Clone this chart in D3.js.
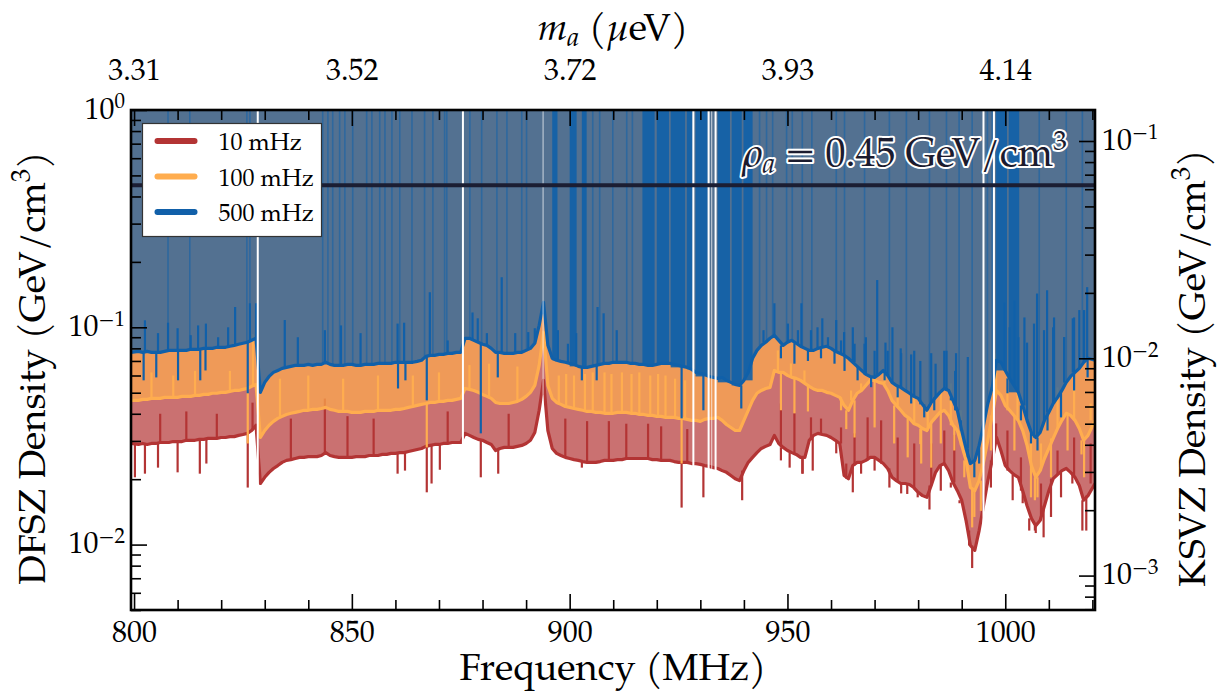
<!DOCTYPE html>
<html>
<head>
<meta charset="utf-8">
<script src="https://cdn.jsdelivr.net/npm/d3@7"></script>
<style>
  html, body { margin: 0; padding: 0; background: #fff; }
</style>
</head>
<body>
<svg id="chart" width="1222" height="692"></svg>
<script>
// DFSZ-equivalent density limits vs frequency, three scan resolutions (800..1020 MHz, 1 MHz grid)
const FONT = '"TeX Gyre Pagella", "Liberation Serif", serif';
const freqs = d3.range(800, 1021, 1);
const freqDomain = [799.3, 1020.6];
const dfszDomain = [0.005, 1];
const ksvzRatio = 7.2;          // DFSZ / KSVZ density for the same coupling
const rhoLocal = 0.45;
const ueVperMHz = 4.1357e-3;    // m_a = h f

const dfsz10 = [
  0.0292, 0.0289, 0.0292, 0.0289, 0.0292, 0.0292, 0.0295, 0.0295, 0.0295, 0.0298,
  0.0298, 0.0298, 0.0302, 0.0302, 0.0302, 0.0305, 0.0305, 0.0308, 0.0308, 0.0308,
  0.0311, 0.0311, 0.0314, 0.0314, 0.0318, 0.0321, 0.0325, 0.0335, 0.0354, 0.0191,
  0.0204, 0.0215, 0.0224, 0.0231, 0.0239, 0.0244, 0.0246, 0.0249, 0.0252, 0.0252,
  0.0254, 0.0254, 0.0254, 0.0257, 0.0265, 0.0257, 0.0254, 0.0252, 0.0252, 0.0252,
  0.0252, 0.0254, 0.0254, 0.0254, 0.0257, 0.0257, 0.0257, 0.0260, 0.0260, 0.0263,
  0.0263, 0.0265, 0.0265, 0.0268, 0.0271, 0.0274, 0.0277, 0.0283, 0.0286, 0.0289,
  0.0289, 0.0292, 0.0292, 0.0295, 0.0295, 0.0295, 0.0325, 0.0318, 0.0311, 0.0305,
  0.0302, 0.0295, 0.0289, 0.0271, 0.0277, 0.0280, 0.0280, 0.0280, 0.0283, 0.0286,
  0.0292, 0.0302, 0.0328, 0.0415, 0.0570, 0.0335, 0.0277, 0.0263, 0.0257, 0.0252,
  0.0249, 0.0246, 0.0244, 0.0241, 0.0239, 0.0239, 0.0239, 0.0241, 0.0244, 0.0244,
  0.0244, 0.0246, 0.0246, 0.0249, 0.0249, 0.0249, 0.0249, 0.0249, 0.0249, 0.0246,
  0.0246, 0.0244, 0.0244, 0.0244, 0.0241, 0.0239, 0.0239, 0.0239, 0.0236, 0.0236,
  0.0234, 0.0231, 0.0229, 0.0226, 0.0224, 0.0219, 0.0215, 0.0208, 0.0201, 0.0197,
  0.0219, 0.0239, 0.0252, 0.0265, 0.0277, 0.0283, 0.0289, 0.0318, 0.0292, 0.0280,
  0.0271, 0.0265, 0.0260, 0.0252, 0.0252, 0.0302, 0.0318, 0.0325, 0.0321, 0.0318,
  0.0311, 0.0302, 0.0292, 0.0208, 0.0201, 0.0231, 0.0239, 0.0239, 0.0244, 0.0252,
  0.0252, 0.0244, 0.0236, 0.0224, 0.0204, 0.0197, 0.0191, 0.0191, 0.0189, 0.0183,
  0.0174, 0.0168, 0.0165, 0.0187, 0.0215, 0.0231, 0.0236, 0.0219, 0.0193, 0.0177,
  0.0160, 0.0129, 0.0099, 0.0094, 0.0116, 0.0151, 0.0197, 0.0244, 0.0311, 0.0271,
  0.0231, 0.0219, 0.0210, 0.0204, 0.0177, 0.0151, 0.0132, 0.0122, 0.0129, 0.0151,
  0.0177, 0.0201, 0.0210, 0.0219, 0.0224, 0.0215, 0.0204, 0.0187, 0.0160, 0.0168,
  0.0191
];
const dfsz100 = [
  0.0461, 0.0461, 0.0466, 0.0466, 0.0471, 0.0471, 0.0471, 0.0476, 0.0476, 0.0476,
  0.0476, 0.0481, 0.0481, 0.0481, 0.0486, 0.0486, 0.0491, 0.0491, 0.0497, 0.0497,
  0.0502, 0.0502, 0.0507, 0.0512, 0.0512, 0.0518, 0.0523, 0.0535, 0.0546, 0.0311,
  0.0335, 0.0354, 0.0369, 0.0381, 0.0389, 0.0397, 0.0402, 0.0406, 0.0410, 0.0415,
  0.0415, 0.0419, 0.0419, 0.0423, 0.0428, 0.0419, 0.0415, 0.0410, 0.0410, 0.0410,
  0.0406, 0.0406, 0.0406, 0.0410, 0.0410, 0.0410, 0.0415, 0.0415, 0.0415, 0.0415,
  0.0419, 0.0419, 0.0423, 0.0428, 0.0432, 0.0437, 0.0442, 0.0446, 0.0451, 0.0451,
  0.0456, 0.0456, 0.0461, 0.0461, 0.0466, 0.0471, 0.0523, 0.0518, 0.0512, 0.0502,
  0.0491, 0.0481, 0.0471, 0.0451, 0.0446, 0.0446, 0.0446, 0.0451, 0.0456, 0.0466,
  0.0481, 0.0502, 0.0540, 0.0668, 0.0948, 0.0540, 0.0471, 0.0451, 0.0442, 0.0432,
  0.0428, 0.0423, 0.0419, 0.0415, 0.0410, 0.0410, 0.0406, 0.0406, 0.0402, 0.0402,
  0.0402, 0.0406, 0.0406, 0.0406, 0.0402, 0.0402, 0.0397, 0.0397, 0.0393, 0.0393,
  0.0389, 0.0389, 0.0385, 0.0385, 0.0385, 0.0381, 0.0381, 0.0377, 0.0373, 0.0373,
  0.0369, 0.0377, 0.0381, 0.0381, 0.0385, 0.0373, 0.0357, 0.0346, 0.0335, 0.0335,
  0.0373, 0.0415, 0.0461, 0.0497, 0.0512, 0.0523, 0.0529, 0.0633, 0.0620, 0.0620,
  0.0601, 0.0588, 0.0582, 0.0570, 0.0552, 0.0535, 0.0520, 0.0512, 0.0512, 0.0502,
  0.0497, 0.0486, 0.0476, 0.0437, 0.0415, 0.0461, 0.0497, 0.0512, 0.0540, 0.0570,
  0.0570, 0.0558, 0.0552, 0.0512, 0.0461, 0.0437, 0.0415, 0.0393, 0.0381, 0.0361,
  0.0354, 0.0342, 0.0335, 0.0365, 0.0385, 0.0406, 0.0415, 0.0393, 0.0354, 0.0335,
  0.0286, 0.0244, 0.0183, 0.0177, 0.0197, 0.0239, 0.0302, 0.0393, 0.0512, 0.0486,
  0.0437, 0.0415, 0.0393, 0.0373, 0.0335, 0.0286, 0.0231, 0.0204, 0.0219, 0.0249,
  0.0277, 0.0308, 0.0342, 0.0373, 0.0402, 0.0393, 0.0373, 0.0342, 0.0302, 0.0318,
  0.0373
];
const dfsz500 = [
  0.0767, 0.0775, 0.0767, 0.0775, 0.0767, 0.0767, 0.0767, 0.0775, 0.0783, 0.0783,
  0.0783, 0.0783, 0.0783, 0.0792, 0.0792, 0.0792, 0.0800, 0.0800, 0.0800, 0.0809,
  0.0809, 0.0809, 0.0818, 0.0826, 0.0835, 0.0844, 0.0853, 0.0871, 0.0890, 0.0502,
  0.0558, 0.0594, 0.0620, 0.0633, 0.0647, 0.0654, 0.0661, 0.0668, 0.0668, 0.0668,
  0.0675, 0.0668, 0.0675, 0.0675, 0.0690, 0.0675, 0.0668, 0.0668, 0.0668, 0.0675,
  0.0675, 0.0668, 0.0668, 0.0675, 0.0675, 0.0675, 0.0682, 0.0682, 0.0682, 0.0682,
  0.0690, 0.0690, 0.0690, 0.0690, 0.0690, 0.0697, 0.0705, 0.0735, 0.0743, 0.0743,
  0.0751, 0.0751, 0.0759, 0.0759, 0.0767, 0.0767, 0.0890, 0.0890, 0.0871, 0.0853,
  0.0835, 0.0826, 0.0800, 0.0767, 0.0767, 0.0759, 0.0759, 0.0759, 0.0767, 0.0767,
  0.0783, 0.0800, 0.0844, 0.1021, 0.1303, 0.0826, 0.0720, 0.0705, 0.0697, 0.0690,
  0.0682, 0.0675, 0.0661, 0.0654, 0.0654, 0.0661, 0.0668, 0.0675, 0.0682, 0.0682,
  0.0690, 0.0690, 0.0690, 0.0690, 0.0682, 0.0682, 0.0675, 0.0675, 0.0668, 0.0668,
  0.0675, 0.0682, 0.0682, 0.0682, 0.0675, 0.0668, 0.0661, 0.0654, 0.0640, 0.0620,
  0.0614, 0.0607, 0.0594, 0.0588, 0.0582, 0.0588, 0.0570, 0.0558, 0.0546, 0.0540,
  0.0570, 0.0620, 0.0720, 0.0783, 0.0826, 0.0853, 0.0890, 0.0918, 0.0871, 0.0826,
  0.0853, 0.0871, 0.0844, 0.0818, 0.0800, 0.0783, 0.0783, 0.0800, 0.0809, 0.0818,
  0.0800, 0.0775, 0.0759, 0.0743, 0.0720, 0.0690, 0.0661, 0.0633, 0.0607, 0.0594,
  0.0588, 0.0607, 0.0633, 0.0601, 0.0558, 0.0540, 0.0529, 0.0512, 0.0497, 0.0481,
  0.0471, 0.0442, 0.0415, 0.0451, 0.0476, 0.0502, 0.0523, 0.0512, 0.0461, 0.0415,
  0.0335, 0.0277, 0.0236, 0.0244, 0.0286, 0.0354, 0.0446, 0.0529, 0.0705, 0.0690,
  0.0633, 0.0582, 0.0540, 0.0502, 0.0437, 0.0373, 0.0328, 0.0311, 0.0328, 0.0373,
  0.0406, 0.0446, 0.0476, 0.0512, 0.0558, 0.0594, 0.0620, 0.0647, 0.0690, 0.0720,
  0.0705
];

// narrow excursions of each limit: [frequency MHz, density]
const spikes10 = [
  [800.2, 0.0204], [802.5, 0.0212], [805.5, 0.0226], [810.0, 0.0215], [815.1, 0.0212],
  [816.6, 0.0236], [826.1, 0.0183], [860.5, 0.0212], [862.2, 0.0219], [867.2, 0.0174],
  [868.3, 0.0191], [870.2, 0.0221], [879.6, 0.0204], [883.6, 0.0212], [902.8, 0.0226],
  [925.7, 0.0148], [930.7, 0.0165], [939.6, 0.0160], [953.4, 0.0212], [965.0, 0.0174],
  [977.5, 0.0171], [982.6, 0.0145], [992.4, 0.0078], [1006.8, 0.0116], [1008.8, 0.0108],
  [1018.6, 0.0116],
  [806.0, 0.040], [812.0, 0.041], [819.0, 0.040], [827.2, 0.045], [836.0, 0.038],
  [843.8, 0.047], [849.0, 0.039], [855.0, 0.038], [872.0, 0.041], [886.0, 0.040],
  [899.0, 0.038], [904.0, 0.037], [909.0, 0.037], [913.0, 0.036], [918.0, 0.036],
  [921.0, 0.035], [927.0, 0.034],
  [948.5, 0.0244], [950.5, 0.0226], [953.5, 0.0212], [955.8, 0.0219], [961.2, 0.0263],
  [963.5, 0.0236], [966.9, 0.0212], [970.0, 0.0219], [973.4, 0.0183], [976.1, 0.0172],
  [977.6, 0.0191], [979.9, 0.0165], [985.2, 0.0177], [987.5, 0.0183], [989.5, 0.0155],
  [991.0, 0.0125], [991.7, 0.0116], [994.4, 0.0116], [996.7, 0.0183], [1001.7, 0.0160],
  [1004.0, 0.0155], [1005.5, 0.0116], [1007.0, 0.0113], [1010.5, 0.0134], [1012.8, 0.0165],
  [1015.4, 0.0191], [1017.7, 0.0116],
  [948.5, 0.0446], [951.6, 0.0402], [955.4, 0.0385], [957.7, 0.0380], [962.3, 0.0346],
  [965.4, 0.0325], [968.4, 0.0385], [971.5, 0.0373], [975.3, 0.0311], [979.1, 0.0292],
  [983.0, 0.0292], [986.0, 0.0335], [988.3, 0.0320], [997.9, 0.0361], [1000.5, 0.0335],
  [1003.6, 0.0252], [1008.2, 0.0191], [1012.0, 0.0271], [1015.8, 0.0311], [1019.6, 0.0292]
];
const spikes100 = [
  [826.1, 0.0292], [867.2, 0.0280], [925.7, 0.0236], [963.5, 0.0340], [980.5, 0.0290],
  [992.4, 0.0120], [1006.8, 0.0160], [1017.5, 0.0260],
  [804.0, 0.062], [809.0, 0.060], [814.0, 0.063], [822.0, 0.063], [827.3, 0.093],
  [833.5, 0.058], [840.0, 0.060], [848.0, 0.058], [856.0, 0.060], [864.0, 0.060],
  [870.0, 0.062], [877.0, 0.067], [881.5, 0.068], [888.0, 0.066], [897.5, 0.060],
  [899.2, 0.061], [901.0, 0.060], [903.5, 0.061], [905.3, 0.062], [908.0, 0.062],
  [909.6, 0.061], [912.0, 0.062], [914.2, 0.061], [916.0, 0.062], [918.5, 0.060],
  [920.3, 0.061], [922.0, 0.060], [924.2, 0.058], [926.5, 0.057],
  [947.8, 0.0783], [950.8, 0.0682], [953.9, 0.0633], [964.6, 0.0512], [966.9, 0.0552],
  [969.2, 0.0588], [972.3, 0.0633], [975.3, 0.0529], [979.1, 0.0476], [982.2, 0.0415],
  [985.2, 0.0497], [987.5, 0.0552], [989.8, 0.0415], [997.9, 0.0759], [1000.5, 0.0512],
  [1002.8, 0.0552], [1005.9, 0.0335], [1008.2, 0.0292], [1012.0, 0.0529], [1015.8, 0.0529],
  [1019.6, 0.0446],
  [948.5, 0.0415], [951.6, 0.0402], [954.7, 0.0410], [962.3, 0.0415], [965.4, 0.0311],
  [970.0, 0.0346], [974.5, 0.0292], [977.6, 0.0252], [980.7, 0.0236], [983.0, 0.0226],
  [985.2, 0.0292], [988.3, 0.0271], [990.6, 0.0204], [992.9, 0.0134], [994.4, 0.0143],
  [996.7, 0.0271], [1002.1, 0.0271], [1005.9, 0.0165], [1007.4, 0.0165], [1010.5, 0.0204],
  [1014.3, 0.0271], [1018.1, 0.0204]
];
const spikes500 = [
  [802.5, 0.1077], [805.5, 0.094], [807.8, 0.105], [810.0, 0.099], [813.0, 0.092],
  [814.7, 0.102], [816.5, 0.104], [819.3, 0.090], [821.6, 0.100], [823.2, 0.124],
  [826.6, 0.129], [828.0, 0.129], [834.6, 0.108], [837.6, 0.090], [843.8, 0.097],
  [847.5, 0.102], [852.0, 0.094], [860.5, 0.104], [862.0, 0.105], [867.9, 0.145],
  [872.0, 0.087], [877.7, 0.117], [878.9, 0.110], [881.0, 0.094], [884.4, 0.170],
  [887.5, 0.094], [890.5, 0.095], [892.0, 0.099], [897.3, 0.097], [899.6, 0.084],
  [901.5, 0.094], [906.4, 0.124], [907.8, 0.116], [910.8, 0.097], [944.5, 0.097],
  [947.0, 0.129], [953.2, 0.129], [956.9, 0.100], [958.0, 0.110], [961.2, 0.108],
  [963.0, 0.095], [965.0, 0.100], [968.0, 0.090], [970.6, 0.165], [972.5, 0.085],
  [974.1, 0.100], [976.0, 0.080], [978.4, 0.075], [980.5, 0.070], [984.0, 0.068],
  [986.5, 0.078], [988.5, 0.063], [1001.0, 0.100], [1003.0, 0.090], [1005.0, 0.085],
  [1007.3, 0.143], [1009.6, 0.148], [1011.0, 0.100], [1013.5, 0.090], [1015.5, 0.110],
  [1017.0, 0.120], [1018.8, 0.153],
  [950.1, 0.104], [952.4, 0.097], [955.4, 0.097], [959.3, 0.090], [962.3, 0.087],
  [965.4, 0.084], [967.7, 0.084], [970.0, 0.078], [973.0, 0.078], [976.1, 0.076],
  [979.1, 0.078], [983.0, 0.076], [986.0, 0.078], [988.7, 0.076], [991.4, 0.073],
  [999.8, 0.130], [1002.1, 0.133], [1004.4, 0.111], [1006.6, 0.104], [1008.9, 0.097],
  [1011.2, 0.111], [1013.5, 0.090], [1015.8, 0.111], [1018.1, 0.120],
  [802.2, 0.0570], [805.1, 0.0588], [810.1, 0.0570], [815.2, 0.0570], [816.4, 0.0633],
  [826.1, 0.0497], [860.6, 0.0523], [862.3, 0.0570], [867.2, 0.0461], [879.6, 0.0325],
  [883.5, 0.0588], [902.8, 0.0570], [906.2, 0.0570], [925.7, 0.0381], [930.7, 0.0415],
  [939.4, 0.0423],
  [948.5, 0.072], [951.6, 0.068], [954.7, 0.070], [957.7, 0.072], [960.8, 0.068],
  [963.1, 0.063], [966.1, 0.057], [969.2, 0.053], [972.3, 0.057], [975.3, 0.0476],
  [978.4, 0.0446], [981.4, 0.0385], [983.7, 0.0415], [987.5, 0.0476], [989.8, 0.0373],
  [991.4, 0.0252], [992.9, 0.0204], [994.0, 0.0236], [1000.5, 0.0497], [1003.6, 0.0373],
  [1005.9, 0.0292], [1007.4, 0.0271], [1009.7, 0.0335], [1012.8, 0.0385], [1015.8, 0.0512],
  [1018.9, 0.0588]
];
// 500 mHz limit leaving the plot (no exclusion): single bins and dense stretches
const spikes500Top = [
  807.8, 812.8, 825.9, 826.6, 843.3, 844.5, 845.6, 847.2, 848.4, 850.2, 853.4, 854.6,
  856.4, 857.6, 859.2, 861.0, 863.8, 866.7, 868.6, 871.3, 871.8, 877.1, 879.8, 883.3,
  885.6, 889.0, 890.1, 905.3, 906.9, 909.9, 913.1, 914.4, 943.6, 945.2, 946.6, 949.8,
  951.1, 953.4, 955.6, 961.2, 963.1, 967.7, 973.4, 977.3, 982.6, 986.5, 989.4, 992.4,
  995.9, 997.0, 1007.8, 1014.0, 1017.7
];
const bands500Top = [
  [896.0, 897.2], [900.0, 901.6], [902.8, 903.9], [916.7, 919.5], [920.0, 922.8],
  [923.2, 926.5], [926.9, 928.2], [928.9, 931.7], [934.0, 936.8], [937.2, 939.5],
  [939.9, 942.0], [997.9, 1000.4], [1000.8, 1003.2]
];
// frequencies with no data (faint = partly covered)
const gapFreqs = [828.4, 875.5, 928.4, 931.9, 933.5, 995.0, 997.4];
const faintGapFreqs = [893.9, 932.6];

const majorFreqs = [800, 850, 900, 950, 1000];
const minorFreqs = d3.range(810, 1021, 10).filter((f) => f % 50 !== 0);

const series = [
  { label: "10 mHz", color: "#b33434", values: dfsz10, spikes: spikes10 },
  { label: "100 mHz", color: "#ffad4f", values: dfsz100, spikes: spikes100 },
  { label: "500 mHz", color: "#1160a9", values: dfsz500, spikes: spikes500 },
];

const svg = d3.select("#chart").attr("font-family", FONT);
const m = { left: 131, right: 1095, top: 110, bottom: 610 };
const x = d3.scaleLinear().domain(freqDomain).range([m.left, m.right]);
const y = d3.scaleLog().domain(dfszDomain).range([m.bottom, m.top]);
const yK = d3.scaleLog().domain(dfszDomain.map((v) => v / ksvzRatio)).range([m.bottom, m.top]);
const last = freqs.length - 1;
const idx = (f) => Math.max(0, Math.min(last, Math.round(f - freqs[0])));
const xf = (i) => (i === 0 ? x(freqDomain[0]) : i === last ? x(freqDomain[1]) : x(freqs[i]));

svg.append("defs").append("clipPath").attr("id", "plot")
  .append("rect").attr("x", m.left).attr("y", m.top)
  .attr("width", m.right - m.left).attr("height", m.bottom - m.top);
const g = svg.append("g").attr("clip-path", "url(#plot)");

const area = d3.area().x((d, i) => xf(i)).y0(m.top).y1((d) => y(d));
const line = d3.line().x((d, i) => xf(i)).y((d) => y(d));

series.forEach((s, k) => {
  const sg = g.append("g");
  sg.append("path").attr("d", area(s.values)).attr("fill", s.color).attr("fill-opacity", 0.7);
  sg.append("g").selectAll("line").data(s.spikes).join("line")
    .attr("x1", (d) => x(d[0])).attr("x2", (d) => x(d[0]))
    .attr("y1", (d) => y(s.values[idx(d[0])])).attr("y2", (d) => y(d[1]))
    .attr("stroke", s.color).attr("stroke-width", 2.2);
  sg.append("path").attr("d", line(s.values)).attr("fill", "none")
    .attr("stroke", s.color).attr("stroke-width", 3.2).attr("stroke-linejoin", "round");
  if (k === 2) {
    sg.append("g").selectAll("line").data(spikes500Top).join("line")
      .attr("x1", (f) => x(f)).attr("x2", (f) => x(f))
      .attr("y1", (f) => y(s.values[idx(f)])).attr("y2", y(dfszDomain[1]))
      .attr("stroke", s.color).attr("stroke-width", 1.6).attr("stroke-opacity", 0.55);
    sg.append("g").selectAll("rect").data(bands500Top).join("rect")
      .attr("x", (b) => x(b[0])).attr("width", (b) => x(b[1]) - x(b[0]))
      .attr("y", m.top)
      .attr("height", (b) => y(d3.min(s.values.slice(idx(b[0]), idx(b[1]) + 1))) - m.top)
      .attr("fill", s.color).attr("fill-opacity", 0.9);
  }
});

g.append("g").selectAll("line").data(gapFreqs).join("line")
  .attr("x1", (f) => x(f)).attr("x2", (f) => x(f)).attr("y1", m.top).attr("y2", m.bottom)
  .attr("stroke", "#fff").attr("stroke-width", 2);
g.append("g").selectAll("line").data(faintGapFreqs).join("line")
  .attr("x1", (f) => x(f)).attr("x2", (f) => x(f)).attr("y1", m.top).attr("y2", m.bottom)
  .attr("stroke", "#fff").attr("stroke-width", 1.2).attr("stroke-opacity", 0.6);

// local dark matter density
g.append("line").attr("x1", m.left).attr("x2", m.right)
  .attr("y1", y(rhoLocal)).attr("y2", y(rhoLocal))
  .attr("stroke", "#1b1e33").attr("stroke-width", 4);
const rho = svg.append("text").attr("x", 1067).attr("y", y(rhoLocal) - 19)
  .attr("text-anchor", "end").attr("font-size", 40)
  .attr("fill", "#1b1b2e").attr("stroke", "#fff").attr("stroke-width", 4)
  .attr("stroke-linejoin", "round").attr("paint-order", "stroke");
rho.append("tspan").attr("font-style", "italic").text("ρ");
rho.append("tspan").attr("font-style", "italic").attr("font-size", 28).attr("dy", 7).text("a");
rho.append("tspan").attr("dy", -7).text(" = 0.45 GeV/cm");
rho.append("tspan").attr("font-size", 28).attr("dy", -16).text("3");

// axes (ticks point inward)
const tickFont = 30;
function styleAxis(sel) {
  sel.attr("font-family", FONT);
  sel.select(".domain").remove();
  sel.selectAll("line").attr("stroke", "#000").attr("stroke-width", 1.6);
  sel.selectAll("text").attr("font-size", tickFont).attr("fill", "#000");
}
function powLabel(v) {
  const t = d3.select(this);
  const e = Math.round(Math.log10(v));
  t.text(null);
  t.append("tspan").text("10");
  t.append("tspan").attr("dy", "-0.5em").attr("font-size", "0.7em").text(e === 0 ? "0" : "\u2212" + (-e));
}
function minorLog(scale) {
  const [a, b] = scale.domain();
  const out = [];
  for (let e = Math.floor(Math.log10(a)); e <= Math.ceil(Math.log10(b)); e++)
    for (let k = 2; k <= 9; k++) { const v = k * 10 ** e; if (v >= a && v <= b) out.push(v); }
  return out;
}

svg.append("g").attr("transform", `translate(0,${m.bottom})`)
  .call(d3.axisBottom(x).tickValues(minorFreqs).tickSize(-10).tickFormat("")).call(styleAxis);
svg.append("g").attr("transform", `translate(0,${m.bottom})`)
  .call(d3.axisBottom(x).tickValues(majorFreqs).tickSize(-16).tickPadding(11).tickFormat(d3.format("d")))
  .call(styleAxis);
svg.append("g").attr("transform", `translate(0,${m.top})`)
  .call(d3.axisTop(x).tickValues(minorFreqs).tickSize(-10).tickFormat("")).call(styleAxis);
svg.append("g").attr("transform", `translate(0,${m.top})`)
  .call(d3.axisTop(x).tickValues(majorFreqs).tickSize(-16).tickPadding(30)
    .tickFormat((f) => (f * ueVperMHz).toFixed(2)))
  .call(styleAxis);

svg.append("g").attr("transform", `translate(${m.left},0)`)
  .call(d3.axisLeft(y).tickValues(minorLog(y)).tickSize(-10).tickFormat("")).call(styleAxis);
svg.append("g").attr("transform", `translate(${m.left},0)`)
  .call(d3.axisLeft(y).tickValues([1, 0.1, 0.01]).tickSize(-16).tickPadding(6))
  .call(styleAxis).call((a) => a.selectAll("text").attr("dy", "0.28em").each(powLabel));
svg.append("g").attr("transform", `translate(${m.right},0)`)
  .call(d3.axisRight(yK).tickValues(minorLog(yK)).tickSize(-10).tickFormat("")).call(styleAxis);
svg.append("g").attr("transform", `translate(${m.right},0)`)
  .call(d3.axisRight(yK).tickValues([0.1, 0.01, 0.001]).tickSize(-16).tickPadding(7))
  .call(styleAxis).call((a) => a.selectAll("text").attr("dy", "0.28em").each(powLabel));

svg.append("rect").attr("x", m.left).attr("y", m.top)
  .attr("width", m.right - m.left).attr("height", m.bottom - m.top)
  .attr("fill", "none").attr("stroke", "#000").attr("stroke-width", 2.6);

// axis titles
const labFont = 38;
svg.append("text").attr("x", (m.left + m.right) / 2).attr("y", 680)
  .attr("text-anchor", "middle").attr("font-size", labFont).text("Frequency (MHz)");
const massLabel = svg.append("text").attr("x", (m.left + m.right) / 2).attr("y", 40)
  .attr("text-anchor", "middle").attr("font-size", labFont);
massLabel.append("tspan").attr("font-style", "italic").text("m");
massLabel.append("tspan").attr("font-style", "italic").attr("font-size", 27).attr("dy", 6).text("a");
massLabel.append("tspan").attr("dy", -6).text(" (");
massLabel.append("tspan").attr("font-style", "italic").text("μ");
massLabel.append("tspan").text("eV)");

function densityLabel(xPos, name) {
  const t = svg.append("text").attr("transform", `translate(${xPos},368) rotate(-90)`)
    .attr("text-anchor", "middle").attr("font-size", labFont);
  t.append("tspan").text(`${name} Density (GeV/cm`);
  t.append("tspan").attr("font-size", 27).attr("dy", -15).text("3");
  t.append("tspan").attr("dy", 15).text(")");
}
densityLabel(45, "DFSZ");
densityLabel(1205, "KSVZ");

// legend
const lg = svg.append("g").attr("transform", "translate(142.5,123.5)");
lg.append("rect").attr("width", 179).attr("height", 113)
  .attr("fill", "#fff").attr("stroke", "#333").attr("stroke-width", 1.2);
lg.selectAll("g.item").data(series).join("g").attr("class", "item")
  .attr("transform", (d, i) => `translate(0,${17.5 + i * 35.5})`)
  .call((it) => {
    it.append("line").attr("x1", 15).attr("x2", 52).attr("stroke", (d) => d.color)
      .attr("stroke-width", 6).attr("stroke-linecap", "round");
    it.append("text").attr("x", 76).attr("y", 9).attr("font-size", 24).text((d) => d.label);
  });

svg.selectAll("text").attr("font-family", FONT);
</script>
</body>
</html>
